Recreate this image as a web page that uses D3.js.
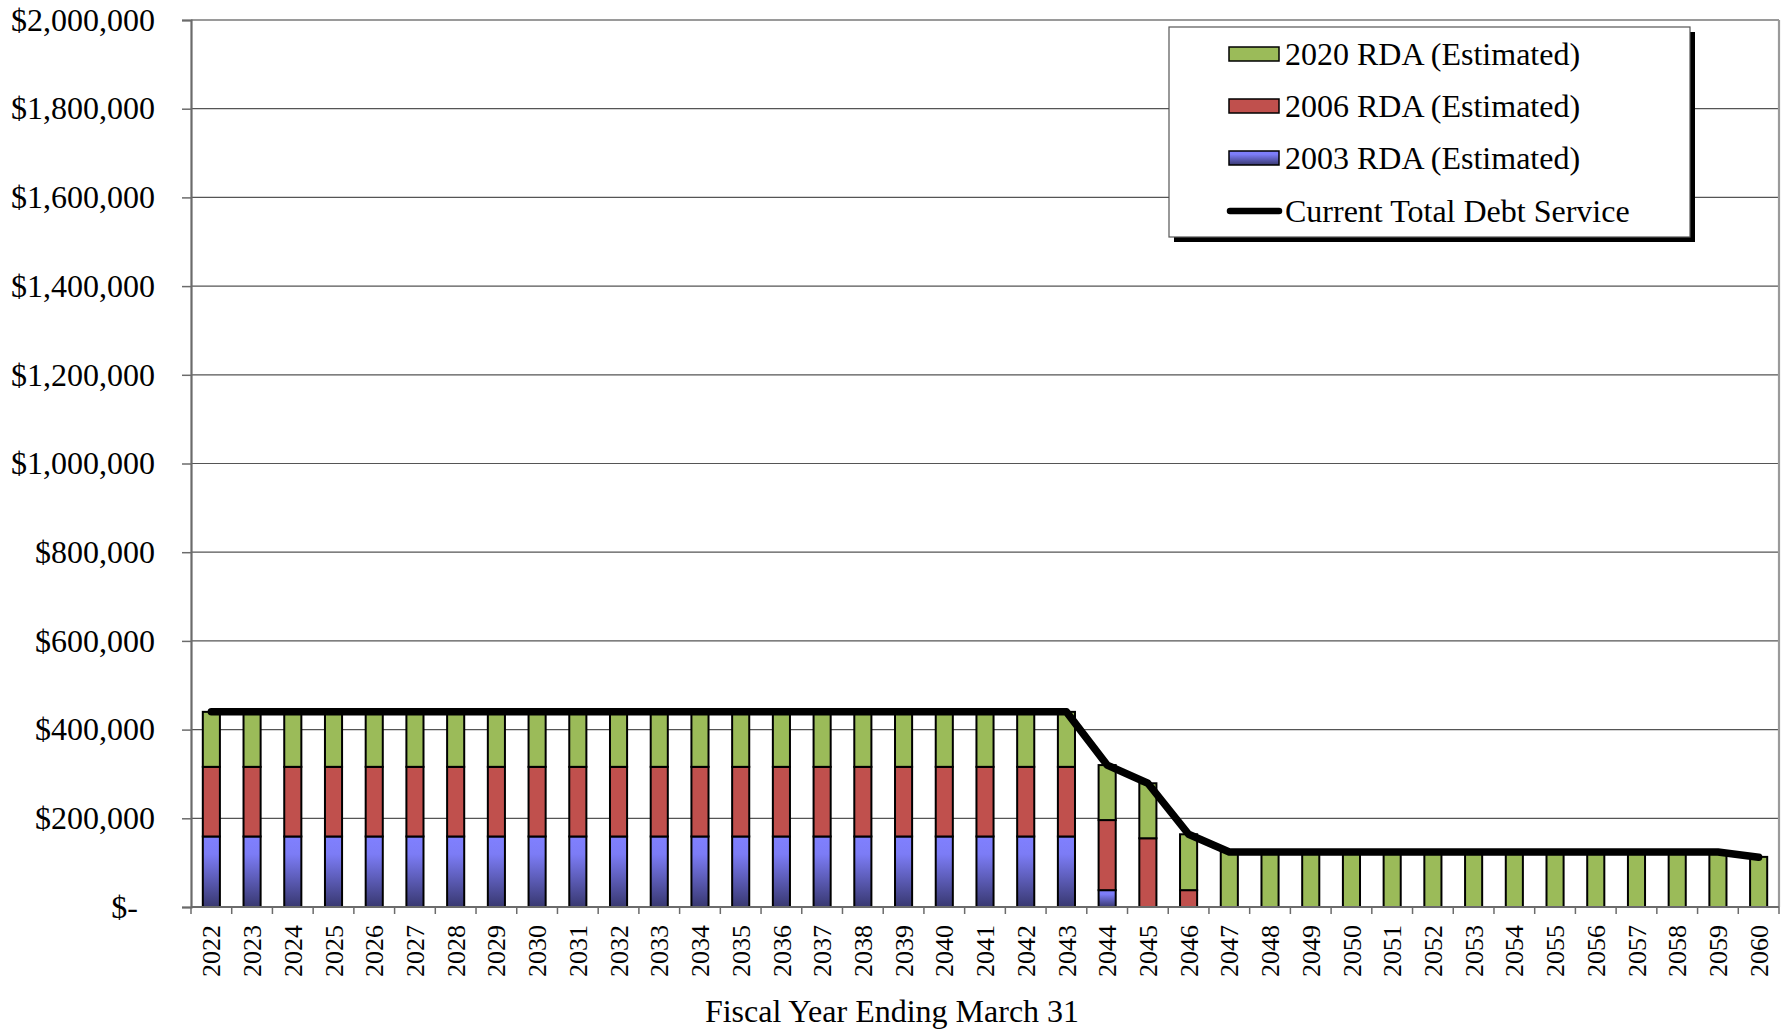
<!DOCTYPE html>
<html>
<head>
<meta charset="utf-8">
<script src="https://cdn.jsdelivr.net/npm/d3@7"></script>
<style>
  body { margin: 0; background: #fff; }
  svg { display: block; font-family: "Liberation Serif", "Times New Roman", serif; }
</style>
</head>
<body>
<svg id="chart" width="1787" height="1029"></svg>
<script>
const years = ["2022","2023","2024","2025","2026","2027","2028","2029","2030","2031",
  "2032","2033","2034","2035","2036","2037","2038","2039","2040","2041",
  "2042","2043","2044","2045","2046","2047","2048","2049","2050","2051",
  "2052","2053","2054","2055","2056","2057","2058","2059","2060"];

const rda2003 = [159000,159000,159000,159000,159000,159000,159000,159000,159000,159000,
  159000,159000,159000,159000,159000,159000,159000,159000,159000,159000,
  159000,159000,38000,0,0,0,0,0,0,0,
  0,0,0,0,0,0,0,0,0];

const rda2006 = [157000,157000,157000,157000,157000,157000,157000,157000,157000,157000,
  157000,157000,157000,157000,157000,157000,157000,157000,157000,157000,
  157000,157000,158000,155000,38000,0,0,0,0,0,
  0,0,0,0,0,0,0,0,0];

const rda2020 = [124000,124000,124000,124000,124000,124000,124000,124000,124000,124000,
  124000,124000,124000,124000,124000,124000,124000,124000,124000,124000,
  124000,124000,124000,124000,126000,124000,124000,124000,124000,124000,
  124000,124000,124000,124000,124000,124000,124000,124000,113000];

const totalDebtService = [440000,440000,440000,440000,440000,440000,440000,440000,440000,440000,
  440000,440000,440000,440000,440000,440000,440000,440000,440000,440000,
  440000,440000,320000,279000,164000,124000,124000,124000,124000,124000,
  124000,124000,124000,124000,124000,124000,124000,124000,112000];

const yTicks = [0,200000,400000,600000,800000,1000000,1200000,1400000,1600000,1800000,2000000];

const seriesNames = ["2003 RDA (Estimated)","2006 RDA (Estimated)","2020 RDA (Estimated)"];
const lineName = "Current Total Debt Service";

const svg = d3.select("#chart");
const L = 191, R = 1779, T = 20, B = 907;

const x = d3.scaleBand().domain(years).range([L, R]).paddingInner(0.58).paddingOuter(0.29);
const y = d3.scaleLinear().domain([0, 2000000]).range([B, T]);

const defs = svg.append("defs");
const grad = defs.append("linearGradient").attr("id","blueGrad")
  .attr("x1",0).attr("y1",0).attr("x2",0).attr("y2",1);
grad.append("stop").attr("offset","0%").attr("stop-color","#8080ff");
grad.append("stop").attr("offset","25%").attr("stop-color","#7c7cf6");
grad.append("stop").attr("offset","100%").attr("stop-color","#383870");

const colors = {"2003 RDA (Estimated)":"url(#blueGrad)","2006 RDA (Estimated)":"#c0504d","2020 RDA (Estimated)":"#9bbb59"};

svg.append("g").selectAll("line").data(yTicks.filter(d => d > 0 && d < 2000000)).join("line")
  .attr("x1", L).attr("x2", R).attr("y1", d => y(d)).attr("y2", d => y(d))
  .attr("stroke", "#555").attr("stroke-width", 1.2);

svg.append("line").attr("x1", L).attr("x2", R).attr("y1", T).attr("y2", T)
  .attr("stroke", "#9a9a9a").attr("stroke-width", 2.2);
svg.append("line").attr("x1", R).attr("x2", R).attr("y1", T).attr("y2", B)
  .attr("stroke", "#9a9a9a").attr("stroke-width", 2.2);

const yAxis = d3.axisLeft(y).tickValues(yTicks).tickSize(9).tickPadding(27)
  .tickFormat(d => d === 0 ? "$-" : d3.format("$,")(d));
const gy = svg.append("g").attr("transform", `translate(${L},0)`).call(yAxis);
gy.select(".domain").attr("stroke", "#6b6b6b").attr("stroke-width", 2.2);
gy.selectAll(".tick line").attr("stroke", "#6b6b6b").attr("stroke-width", 1.5);
gy.selectAll(".tick text").attr("font-size", 32).attr("fill", "#000")
  .attr("font-family", "Liberation Serif")
  .attr("dx", d => d === 0 ? -17 : 0);

const table = years.map((yr, i) => ({
  year: yr,
  "2003 RDA (Estimated)": rda2003[i],
  "2006 RDA (Estimated)": rda2006[i],
  "2020 RDA (Estimated)": rda2020[i]
}));
const stack = d3.stack().keys(seriesNames)(table);

svg.append("g").selectAll("g").data(stack).join("g")
  .attr("fill", s => colors[s.key])
  .selectAll("rect").data(s => s.filter(d => d[1] - d[0] > 0)).join("rect")
  .attr("x", d => x(d.data.year))
  .attr("width", x.bandwidth())
  .attr("y", d => y(d[1]))
  .attr("height", d => y(d[0]) - y(d[1]))
  .attr("stroke", "#000").attr("stroke-width", 2);

svg.append("line").attr("x1", L).attr("x2", R).attr("y1", B).attr("y2", B)
  .attr("stroke", "#6b6b6b").attr("stroke-width", 2.2);
svg.append("g").selectAll("line").data(d3.range(years.length + 1)).join("line")
  .attr("x1", i => L + i * (R - L) / years.length)
  .attr("x2", i => L + i * (R - L) / years.length)
  .attr("y1", B).attr("y2", B + 7)
  .attr("stroke", "#6b6b6b").attr("stroke-width", 1.5);
svg.append("g").selectAll("text").data(years).join("text")
  .attr("transform", d => `translate(${x(d) + x.bandwidth()/2},${B + 18}) rotate(-90)`)
  .attr("text-anchor", "end").attr("dy", "0.35em")
  .attr("font-size", 26).text(d => d);

const line = d3.line().x((d, i) => x(years[i]) + x.bandwidth()/2).y(d => y(d));
svg.append("path").datum(totalDebtService).attr("d", line)
  .attr("fill", "none").attr("stroke", "#000").attr("stroke-width", 7.5)
  .attr("stroke-linejoin", "round").attr("stroke-linecap", "round");

svg.append("text").attr("x", (L + R) / 2 - 93).attr("y", 1011).attr("dy", "0.35em")
  .attr("text-anchor", "middle").attr("font-size", 32).text("Fiscal Year Ending March 31");

const lg = svg.append("g");
lg.append("rect").attr("x", 1174).attr("y", 32).attr("width", 521).attr("height", 210).attr("fill", "#000");
lg.append("rect").attr("x", 1169).attr("y", 27).attr("width", 521).attr("height", 210)
  .attr("fill", "#fff").attr("stroke", "#555").attr("stroke-width", 1.2);
const legendItems = [
  {name: "2020 RDA (Estimated)", type: "bar"},
  {name: "2006 RDA (Estimated)", type: "bar"},
  {name: "2003 RDA (Estimated)", type: "bar"},
  {name: lineName, type: "line"}
];
const rowY = [54, 106, 158, 211];
legendItems.forEach((it, i) => {
  if (it.type === "bar") {
    lg.append("rect").attr("x", 1229).attr("y", rowY[i] - 7).attr("width", 50).attr("height", 14)
      .attr("fill", colors[it.name]).attr("stroke", "#000").attr("stroke-width", 1.5);
  } else {
    lg.append("line").attr("x1", 1230).attr("x2", 1279).attr("y1", rowY[i]).attr("y2", rowY[i])
      .attr("stroke", "#000").attr("stroke-width", 6.5).attr("stroke-linecap", "round");
  }
  lg.append("text").attr("x", 1285).attr("y", rowY[i]).attr("dy", "0.35em")
    .attr("font-size", 32).text(it.name);
});
</script>
</body>
</html>
